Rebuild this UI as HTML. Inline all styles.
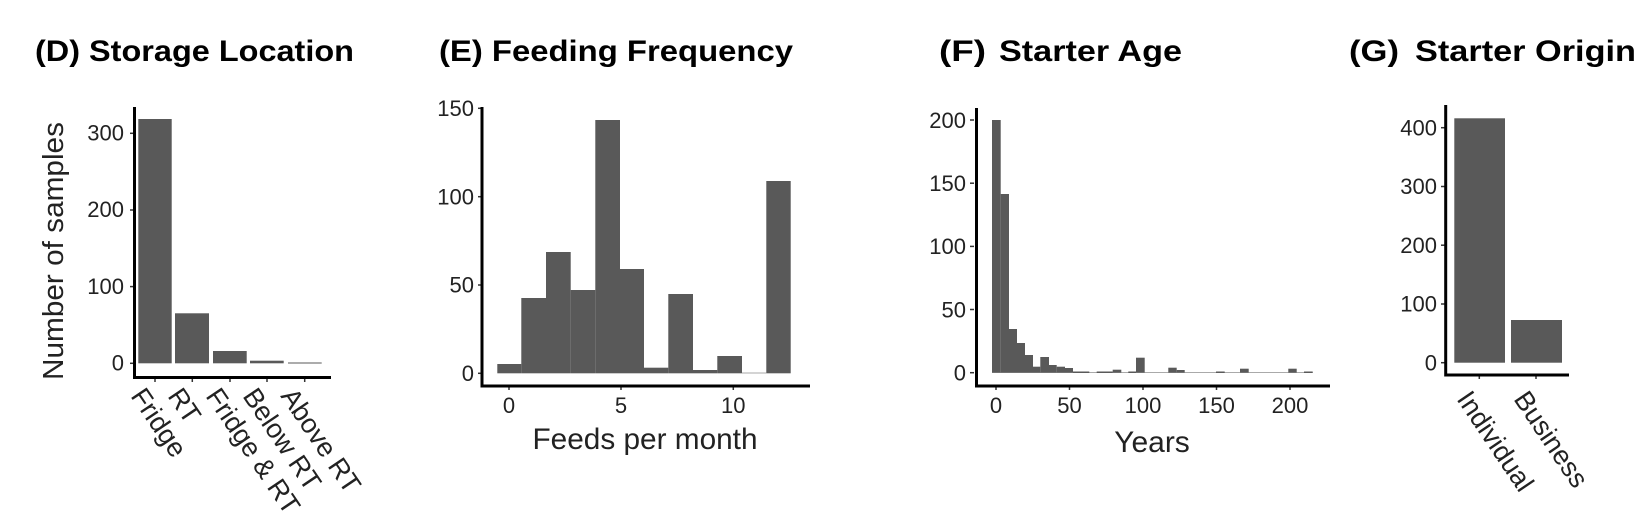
<!DOCTYPE html>
<html><head><meta charset="utf-8"><style>
html,body{margin:0;padding:0;background:#fff;}
svg{display:block;font-family:"Liberation Sans",Arial,sans-serif;}
.t{font-weight:bold;font-size:30px;fill:#000;}
.tk{font-size:22px;fill:#222;}
.ax{stroke:#000;stroke-width:3;fill:none;}
.tm{stroke:#333;stroke-width:1.5;}
.b{fill:#595959;}
</style></head><body>
<svg width="1636" height="531" viewBox="0 0 1636 531">
<!-- Titles -->
<text class="t" x="35" y="61" textLength="319" lengthAdjust="spacingAndGlyphs">(D) Storage Location</text>
<text class="t" x="439" y="61" textLength="354" lengthAdjust="spacingAndGlyphs">(E) Feeding Frequency</text>
<text class="t" x="939" y="61" textLength="47" lengthAdjust="spacingAndGlyphs">(F)</text>
<text class="t" x="999" y="61" textLength="183" lengthAdjust="spacingAndGlyphs">Starter Age</text>
<text class="t" x="1349" y="61" textLength="50" lengthAdjust="spacingAndGlyphs">(G)</text>
<text class="t" x="1415" y="61" textLength="221" lengthAdjust="spacingAndGlyphs">Starter Origin</text>

<!-- Panel D -->
<text x="0" y="0" font-size="29" fill="#222" transform="translate(63,380) rotate(-90)" textLength="258" lengthAdjust="spacingAndGlyphs">Number of samples</text>
<rect class="b" x="138.3" y="119" width="33.4" height="244.3"/>
<rect class="b" x="175" y="313.3" width="34" height="50"/>
<rect class="b" x="213" y="351" width="33.7" height="12.3"/>
<rect class="b" x="250" y="360.7" width="33.7" height="2.6"/>
<rect class="b" x="288" y="362.5" width="33.7" height="1"/>
<g class="tk" text-anchor="end">
<text x="124" y="370.5">0</text><text x="124" y="293.8">100</text><text x="124" y="217">200</text><text x="124" y="140.5">300</text>
</g>
<g class="tm"><line x1="130" x2="134" y1="363.3" y2="363.3"/><line x1="130" x2="134" y1="286.6" y2="286.6"/><line x1="130" x2="134" y1="210" y2="210"/><line x1="130" x2="134" y1="133.3" y2="133.3"/>
<line x1="155" x2="155" y1="378" y2="382"/><line x1="192.3" x2="192.3" y1="378" y2="382"/><line x1="230" x2="230" y1="378" y2="382"/><line x1="267" x2="267" y1="378" y2="382"/><line x1="304.7" x2="304.7" y1="378" y2="382"/></g>
<path class="ax" d="M134.5,107 V377.5 H331"/>
<g font-size="27" fill="#222">
<text transform="translate(130,396) rotate(56)">Fridge</text>
<text transform="translate(167,396) rotate(56)">RT</text>
<text transform="translate(205,396) rotate(56)">Fridge &amp; RT</text>
<text transform="translate(242,396) rotate(56)">Below RT</text>
<text transform="translate(280,396) rotate(56)">Above RT</text>
</g>

<!-- Panel E -->
<rect class="b" x="497.3" y="364" width="24" height="9.3"/>
<rect class="b" x="521.3" y="298" width="24.7" height="75.3"/>
<rect class="b" x="546" y="252" width="24.7" height="121.3"/>
<rect class="b" x="570.7" y="290" width="24.6" height="83.3"/>
<rect class="b" x="595.3" y="120" width="24.7" height="253.3"/>
<rect class="b" x="620" y="269" width="24" height="104.3"/>
<rect class="b" x="644" y="367.7" width="24.3" height="5.6"/>
<rect class="b" x="668.3" y="294" width="24.7" height="79.3"/>
<rect class="b" x="693" y="370" width="24.3" height="3.3"/>
<rect class="b" x="717.3" y="356" width="24.7" height="17.3"/>
<rect x="742" y="372.5" width="24.3" height="1" fill="#aaa"/>
<rect class="b" x="766.3" y="181" width="24.4" height="192.3"/>
<g class="tk" text-anchor="end">
<text x="474" y="381">0</text><text x="474" y="292.6">50</text><text x="474" y="204.3">100</text><text x="474" y="116">150</text>
</g>
<g class="tm"><line x1="478" x2="482" y1="373.3" y2="373.3"/><line x1="478" x2="482" y1="285" y2="285"/><line x1="478" x2="482" y1="196.7" y2="196.7"/><line x1="478" x2="482" y1="108.3" y2="108.3"/>
<line x1="509" x2="509" y1="386" y2="390"/><line x1="621" x2="621" y1="386" y2="390"/><line x1="733.3" x2="733.3" y1="386" y2="390"/></g>
<path class="ax" d="M482,107 V386 H810"/>
<g class="tk" text-anchor="middle"><text x="509" y="413">0</text><text x="621" y="413">5</text><text x="733.3" y="413">10</text></g>
<text x="645" y="449" font-size="30" fill="#222" text-anchor="middle" textLength="225" lengthAdjust="spacingAndGlyphs">Feeds per month</text>

<!-- Panel F -->
<line x1="992" x2="1312.7" y1="372.5" y2="372.5" stroke="#aaa" stroke-width="1"/>
<g class="b">
<rect x="992" y="120" width="8.7" height="252.7"/>
<rect x="1000.7" y="194" width="8.3" height="178.7"/>
<rect x="1009" y="329" width="8" height="43.7"/>
<rect x="1017" y="343" width="8" height="29.7"/>
<rect x="1025" y="355" width="8" height="17.7"/>
<rect x="1033" y="366.7" width="7.3" height="6"/>
<rect x="1040.3" y="357" width="8.7" height="15.7"/>
<rect x="1049" y="365" width="7.7" height="7.7"/>
<rect x="1056.7" y="366.7" width="8.3" height="6"/>
<rect x="1065" y="368" width="8" height="4.7"/>
<rect x="1073" y="371.5" width="8" height="1.5"/>
<rect x="1081" y="371.5" width="8.3" height="1.5"/>
<rect x="1096.7" y="371.5" width="8.3" height="1.5"/>
<rect x="1105" y="371.5" width="7.7" height="1.5"/>
<rect x="1112.7" y="369.7" width="8.6" height="3"/>
<rect x="1128.3" y="371.5" width="7.7" height="1.5"/>
<rect x="1136" y="357.7" width="8.7" height="15"/>
<rect x="1168.3" y="367.7" width="8.4" height="5"/>
<rect x="1176.7" y="370" width="8" height="2.7"/>
<rect x="1216" y="371.5" width="8.7" height="1.5"/>
<rect x="1240" y="368.7" width="8.7" height="4"/>
<rect x="1288.3" y="368.7" width="8.4" height="4"/>
<rect x="1304" y="371.5" width="8.7" height="1.5"/>
</g>
<g class="tk" text-anchor="end">
<text x="966" y="380.5">0</text><text x="966" y="317.3">50</text><text x="966" y="254.2">100</text><text x="966" y="191">150</text><text x="966" y="128">200</text>
</g>
<g class="tm"><line x1="970" x2="974" y1="372.7" y2="372.7"/><line x1="970" x2="974" y1="309.5" y2="309.5"/><line x1="970" x2="974" y1="246.4" y2="246.4"/><line x1="970" x2="974" y1="183.2" y2="183.2"/><line x1="970" x2="974" y1="120" y2="120"/>
<line x1="996" x2="996" y1="386" y2="390"/><line x1="1069.5" x2="1069.5" y1="386" y2="390"/><line x1="1143" x2="1143" y1="386" y2="390"/><line x1="1216.5" x2="1216.5" y1="386" y2="390"/><line x1="1290" x2="1290" y1="386" y2="390"/></g>
<path class="ax" d="M976.5,108 V386 H1330"/>
<g class="tk" text-anchor="middle"><text x="996" y="413">0</text><text x="1069.5" y="413">50</text><text x="1143" y="413">100</text><text x="1216.5" y="413">150</text><text x="1290" y="413">200</text></g>
<text x="1152" y="452" font-size="30" fill="#222" text-anchor="middle">Years</text>

<!-- Panel G -->
<rect class="b" x="1454.3" y="118.3" width="50.7" height="244.4"/>
<rect class="b" x="1511" y="320" width="51" height="42.7"/>
<g class="tk" text-anchor="end">
<text x="1437" y="370.5">0</text><text x="1437" y="311.7">100</text><text x="1437" y="253">200</text><text x="1437" y="194.2">300</text><text x="1437" y="135.5">400</text>
</g>
<g class="tm"><line x1="1441" x2="1445" y1="362.7" y2="362.7"/><line x1="1441" x2="1445" y1="304" y2="304"/><line x1="1441" x2="1445" y1="245.2" y2="245.2"/><line x1="1441" x2="1445" y1="186.5" y2="186.5"/><line x1="1441" x2="1445" y1="127.7" y2="127.7"/>
<line x1="1479.3" x2="1479.3" y1="375" y2="379"/><line x1="1536" x2="1536" y1="375" y2="379"/></g>
<path class="ax" d="M1445.7,105 V375 H1569"/>
<g font-size="27" fill="#222">
<text transform="translate(1456,399) rotate(56)">Individual</text>
<text transform="translate(1513,399) rotate(56)">Business</text>
</g>
</svg>
</body></html>
